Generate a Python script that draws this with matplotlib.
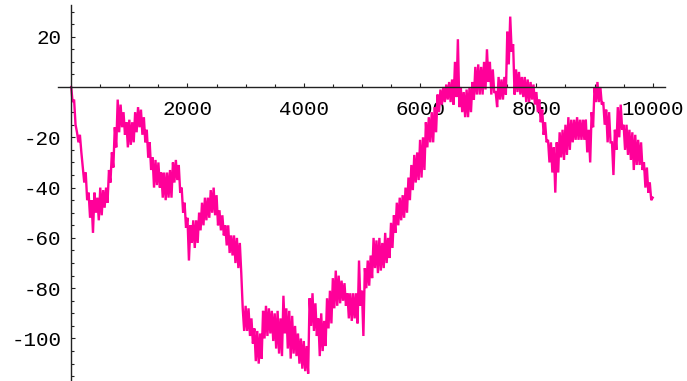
import matplotlib
matplotlib.use("Agg")
import matplotlib.pyplot as plt
import numpy as np
from matplotlib.ticker import FixedLocator

# The walk is too dense to read step by step, so it is read as its local
# highs (at steps 0, 50, ..., 10000) and local lows (at 25, 75, ..., 9975).
STEP = 50
walk_high = [
    0, -5, -18, -19, -32, -34, -42, -45, -42, -44,
    -40, -41, -40, -33, -26, -16, -5, -7, -10, -14,
    -13, -14, -10, -8, -9, -12, -17, -22, -28, -29,
    -30, -34, -34, -34, -33, -30, -29, -31, -40, -46,
    -52, -55, -53, -53, -50, -46, -44, -44, -41, -40,
    -43, -49, -51, -55, -55, -59, -59, -60, -62, -88,
    -87, -88, -92, -96, -97, -98, -89, -87, -88, -89,
    -90, -89, -92, -83, -88, -89, -91, -95, -98, -100,
    -101, -103, -84, -82, -86, -92, -90, -93, -84, -81,
    -76, -73, -75, -77, -78, -82, -82, -82, -82, -69,
    -81, -72, -69, -67, -60, -61, -60, -62, -58, -60,
    -54, -51, -46, -44, -43, -40, -36, -31, -27, -26,
    -21, -20, -14, -12, -10, -8, -3, -1, 0, 1,
    2, 3, 10, 19, 0, -2, -1, 0, 2, 8,
    9, 8, 10, 15, 10, 7, -2, 4, 3, 4,
    22, 28, 17, 7, 6, 4, 4, 3, 2, 1,
    -2, -5, -9, -14, -21, -22, -24, -22, -18, -17,
    -15, -12, -13, -13, -12, -13, -13, -13, -17, -10,
    0, 2, 0, -6, -9, -10, -22, -17, -8, -7,
    -15, -15, -17, -18, -19, -21, -22, -30, -32, -38,
    -44,
]
walk_low = [
    -6, -15, -22, -26, -38, -45, -52, -58, -50, -53,
    -51, -48, -46, -38, -32, -24, -18, -16, -19, -24,
    -23, -22, -18, -16, -19, -22, -28, -33, -40, -39,
    -40, -44, -45, -44, -44, -38, -37, -42, -50, -56,
    -69, -62, -64, -62, -57, -55, -53, -52, -50, -51,
    -55, -57, -59, -63, -66, -67, -70, -72, -74, -97,
    -97, -99, -102, -109, -110, -108, -100, -99, -98, -101,
    -104, -106, -107, -98, -104, -108, -106, -107, -110, -112,
    -113, -114, -95, -97, -99, -107, -105, -103, -96, -94,
    -88, -87, -86, -85, -87, -92, -93, -92, -94, -87,
    -99, -80, -79, -76, -72, -74, -73, -72, -70, -68,
    -64, -58, -55, -53, -52, -50, -45, -41, -38, -37,
    -36, -33, -24, -22, -22, -18, -10, -7, -6, -5,
    -6, -7, -4, -8, -10, -12, -12, -10, -5, -3,
    -3, -3, -1, 2, -3, -2, -8, -5, -5, -3,
    9, 14, -3, -2, -3, -4, -6, -6, -5, -7,
    -10, -14, -19, -22, -30, -34, -42, -34, -28, -29,
    -27, -25, -22, -21, -21, -21, -21, -26, -30, -16,
    -6, -6, -7, -15, -22, -22, -35, -25, -20, -17,
    -25, -27, -29, -33, -31, -31, -33, -40, -42, -45,
]

x_major = [2000, 4000, 6000, 8000, 10000]
y_major = [-100, -80, -60, -40, -20, 20]

plt.rcParams["font.family"] = ["Liberation Mono", "DejaVu Sans Mono"]
plt.rcParams["axes.unicode_minus"] = False

fig = plt.figure(figsize=(6.87, 3.81), dpi=100)
ax = fig.add_axes([0, 0, 1, 1])

# put highs and lows back in step order
steps_high = np.arange(len(walk_high)) * STEP
steps_low = np.arange(len(walk_low)) * STEP + STEP // 2
steps = np.empty(len(walk_high) + len(walk_low))
values = np.empty_like(steps)
steps[0::2], values[0::2] = steps_high, walk_high
steps[1::2], values[1::2] = steps_low, walk_low

ax.plot(steps, values, color="#ff0099", lw=1.7, solid_joinstyle="miter")

ax.set_xlim(-1224, 10590)
ax.set_ylim(-116.9, 34.6)

for side in ("top", "right"):
    ax.spines[side].set_visible(False)
for side in ("left", "bottom"):
    ax.spines[side].set_position(("data", 0))
    ax.spines[side].set_linewidth(1.0)
    ax.spines[side].set_color("#222222")
ax.spines["left"].set_bounds(-116.9, 32.6)
ax.spines["bottom"].set_bounds(-227, 10218)

ax.xaxis.set_major_locator(FixedLocator(x_major))
ax.xaxis.set_minor_locator(FixedLocator([v for v in range(500, 10001, 500) if v not in x_major]))
ax.yaxis.set_major_locator(FixedLocator(y_major))
ax.yaxis.set_minor_locator(FixedLocator([v for v in range(-115, 31, 5) if v not in y_major and v != 0]))
ax.set_xticklabels([str(v) for v in x_major])
ax.set_yticklabels([str(v) for v in y_major])

ax.tick_params(which="both", direction="in", color="#222222", width=0.8)
ax.tick_params(which="major", length=3.0)
ax.tick_params(which="minor", length=2.4)
ax.tick_params(axis="x", which="major", pad=9, labelsize=15)
ax.tick_params(axis="y", which="major", pad=7, labelsize=15)

fig.savefig("out.png", dpi=100)
